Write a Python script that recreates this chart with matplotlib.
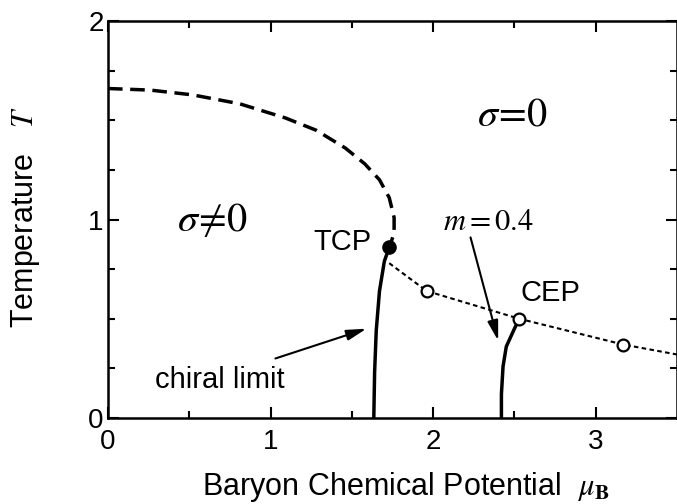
import numpy as np
import matplotlib
matplotlib.use("Agg")
import matplotlib.pyplot as plt

plt.rcParams['font.family'] = ['Liberation Sans', 'DejaVu Sans']
plt.rcParams['mathtext.fontset'] = 'stix'

# crossover (dashed) line in the chiral limit, from mu=0 down to the TCP
cross_mu = [0.0, 0.26, 0.52, 0.81, 1.09, 1.28, 1.46, 1.58, 1.67, 1.73, 1.76, 1.76, 1.73]
cross_T = [1.66, 1.652, 1.628, 1.583, 1.512, 1.45, 1.36, 1.28, 1.20, 1.11, 1.01, 0.93, 0.86]

# first-order line, chiral limit
chiral_mu = [1.73, 1.70, 1.67, 1.65, 1.64, 1.635]
chiral_T = [0.86, 0.79, 0.64, 0.44, 0.23, 0.0]

# first-order line, m = 0.4
m04_mu = [2.53, 2.50, 2.45, 2.43, 2.42, 2.42]
m04_T = [0.50, 0.45, 0.36, 0.26, 0.12, 0.0]

# CEP trajectory (dotted) and computed points
cep_mu = [1.73, 1.96, 2.53, 3.17, 3.5]
cep_T = [0.78, 0.64, 0.50, 0.37, 0.32]
pts_mu = [1.96, 2.53, 3.17]
pts_T = [0.64, 0.50, 0.37]

tcp_mu, tcp_T = 1.73, 0.86

fig = plt.figure(figsize=(6.77, 5.04), dpi=100)
ax = fig.add_axes([0.1595, 0.1706, 0.8405, 0.7877])

ax.plot(cross_mu, cross_T, color='black', lw=2.5, dashes=(4.2, 2.2))
ax.plot(chiral_mu, chiral_T, color='black', lw=2.5, solid_capstyle='butt')
ax.plot(m04_mu, m04_T, color='black', lw=2.5, solid_capstyle='butt')
ax.plot(cep_mu, cep_T, color='black', lw=1.5, dashes=(2.2, 1.6))
ax.plot(pts_mu, pts_T, 'o', ms=8.5, mfc='white', mec='black', mew=1.6)
ax.plot(tcp_mu, tcp_T, 'o', ms=9.5, color='black')

arrow = dict(arrowstyle='-|>,head_length=0.75,head_width=0.2', color='black',
             lw=1.5, mutation_scale=16, shrinkA=0, shrinkB=0)
ax.annotate('', xy=(1.59, 0.45), xytext=(1.03, 0.30), arrowprops=arrow)
ax.annotate('', xy=(2.40, 0.39), xytext=(2.23, 0.91), arrowprops=arrow)

ax.text(2.49, 1.53, r'$\sigma\!=\!0$', fontsize=29, ha='center', va='center')
ax.text(0.64, 1.0, r'$\sigma\!\neq\!0$', fontsize=29, ha='center', va='center')
ax.text(1.62, 0.885, 'TCP', fontsize=21, ha='right', va='center')
ax.text(2.34, 0.99, r'$m = 0.4$', fontsize=22, ha='center', va='center')
ax.text(2.72, 0.63, 'CEP', fontsize=21, ha='center', va='center')
ax.text(0.69, 0.19, 'chiral limit', fontsize=21, ha='center', va='center')

ax.set_xlim(0, 3.5)
ax.set_ylim(0, 2)
ax.set_xticks([0, 1, 2, 3])
ax.set_yticks([0, 1, 2])
ax.set_xticks(np.arange(0.5, 3.5, 1.0), minor=True)
ax.set_yticks([0.25, 0.5, 0.75, 1.25, 1.5, 1.75], minor=True)
ax.tick_params(which='both', direction='in', top=True, right=True, labelsize=20, width=1.5)
ax.tick_params(which='major', length=8)
ax.tick_params(which='minor', length=5)
ax.tick_params(axis='y', pad=3)
ax.tick_params(axis='x', pad=8)
for s in ax.spines.values():
    s.set_linewidth(1.8)

fig.text(0.037, 0.568, r'Temperature   $T$', rotation=90, fontsize=22, ha='center', va='center')
fig.text(0.6, 0.033, r'Baryon Chemical Potential  $\mu_{\mathbf{B}}$', fontsize=22, ha='center', va='center')

fig.savefig('out.png', dpi=100)
